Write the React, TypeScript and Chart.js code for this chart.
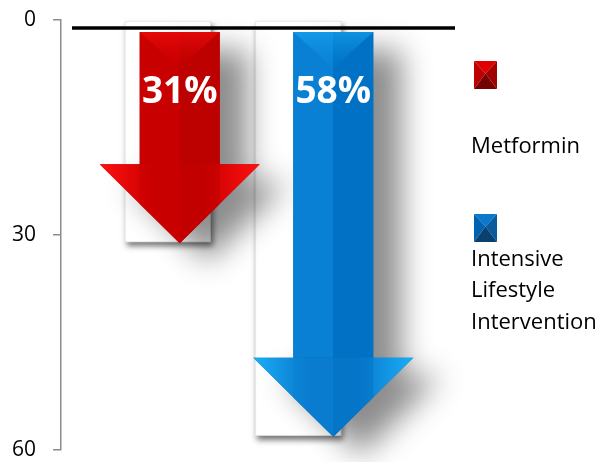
import React, { useEffect, useRef } from "react";
import { Chart, registerables } from "chart.js";

Chart.register(...registerables);

// ---- data ----
const categories = [""];
const seriesNames = ["Metformin", "Intensive Lifestyle Intervention"];
const metforminValues = [31];
const lifestyleValues = [58];
const yTickValues = [0, 30, 60];
const legendLines = [["Metformin"], ["Intensive", "Lifestyle", "Intervention"]];

// ---- style ----
const FONT = "'Open Sans', 'DejaVu Sans', sans-serif";
const ARROW_STYLE = [
  {
    offset: 12,
    shaftL: "#c80000",
    shaftR: "#bd0000",
    cap: "#d80000",
    headEdge: "#ff1010",
    headMid: "#c80000",
    sq: ["#e00000", "#bf0000", "#a00000", "#760000"],
  },
  {
    offset: 35,
    shaftL: "#0a80d4",
    shaftR: "#0071c4",
    cap: "#0c92e4",
    headEdge: "#1aaef7",
    headMid: "#0a78cc",
    sq: ["#0a78cc", "#0062b0", "#0a5a9c", "#0a406e"],
  },
];
const LEGEND_SQ = [
  { x: 474, y: 61 },
  { x: 474, y: 214 },
];
const LEGEND_TEXT_Y = [[147], [260, 291, 323]];

const arrowPlugin = {
  id: "arrowPlugin",
  beforeDatasetsDraw(chart: any) {
    const ctx = chart.ctx;
    chart.data.datasets.forEach((ds: any, i: number) => {
      const el = chart.getDatasetMeta(i).data[0];
      const { x, y, base, width } = el.getProps(["x", "y", "base", "width"], true);
      const top = Math.min(y, base);
      const h = Math.abs(base - y);
      ctx.save();
      ctx.shadowColor = "rgba(0,0,0,0.55)";
      ctx.shadowBlur = 6;
      ctx.shadowOffsetX = 2;
      ctx.shadowOffsetY = 4;
      ctx.fillStyle = "#ffffff";
      ctx.fillRect(x - width / 2, top, width, h);
      ctx.restore();
    });
  },
  afterDatasetsDraw(chart: any) {
    const ctx = chart.ctx;
    const yScale = chart.scales.y;
    const base = yScale.getPixelForValue(0);
    const area = chart.chartArea;

    // black zero line
    ctx.save();
    ctx.strokeStyle = "#000";
    ctx.lineWidth = 3.5;
    ctx.beginPath();
    ctx.moveTo(area.left + 11, base + 8);
    ctx.lineTo(area.right + 50, base + 8);
    ctx.stroke();
    ctx.restore();

    chart.data.datasets.forEach((ds: any, i: number) => {
      const el = chart.getDatasetMeta(i).data[0];
      const st = ARROW_STYLE[i];
      const cx = el.x + st.offset;
      const tip = el.y + 1;
      const top = base + 12;
      const headTop = tip - 79;
      const sw = 40;
      const hw = 80;

      const outline = () => {
        ctx.beginPath();
        ctx.moveTo(cx - sw, top);
        ctx.lineTo(cx + sw, top);
        ctx.lineTo(cx + sw, headTop);
        ctx.lineTo(cx + hw, headTop);
        ctx.lineTo(cx, tip);
        ctx.lineTo(cx - hw, headTop);
        ctx.lineTo(cx - sw, headTop);
        ctx.closePath();
      };

      // shadow
      ctx.save();
      ctx.shadowColor = "rgba(0,0,0,0.45)";
      ctx.shadowBlur = 30;
      ctx.shadowOffsetX = 28;
      ctx.shadowOffsetY = 18;
      ctx.fillStyle = st.shaftR;
      outline();
      ctx.fill();
      ctx.restore();

      // shaft halves
      ctx.save();
      ctx.fillStyle = st.shaftL;
      ctx.fillRect(cx - sw, top, sw, headTop - top);
      ctx.fillStyle = st.shaftR;
      ctx.fillRect(cx, top, sw, headTop - top);
      // top cap chevron
      const capG = ctx.createLinearGradient(0, top, 0, top + 40);
      capG.addColorStop(0, st.headEdge);
      capG.addColorStop(1, st.cap + "00");
      ctx.fillStyle = capG;
      ctx.beginPath();
      ctx.moveTo(cx - sw, top);
      ctx.lineTo(cx + sw, top);
      ctx.lineTo(cx, top + 36);
      ctx.closePath();
      ctx.globalAlpha = 0.55;
      ctx.fill();
      ctx.globalAlpha = 1;

      // head
      const hg = ctx.createLinearGradient(cx - hw, 0, cx + hw, 0);
      hg.addColorStop(0, st.headEdge);
      hg.addColorStop(0.35, st.headMid);
      hg.addColorStop(0.5, st.headMid);
      hg.addColorStop(0.65, st.headMid);
      hg.addColorStop(1, st.headEdge);
      ctx.fillStyle = hg;
      ctx.beginPath();
      ctx.moveTo(cx - hw, headTop);
      ctx.lineTo(cx + hw, headTop);
      ctx.lineTo(cx, tip);
      ctx.closePath();
      ctx.fill();
      // shaft continuation into head (darker center)
      ctx.globalAlpha = 0.5;
      ctx.fillStyle = st.shaftL;
      ctx.beginPath();
      ctx.moveTo(cx - sw, headTop);
      ctx.lineTo(cx, headTop);
      ctx.lineTo(cx, tip);
      ctx.lineTo(cx - sw, headTop + sw);
      ctx.closePath();
      ctx.fill();
      ctx.fillStyle = st.shaftR;
      ctx.beginPath();
      ctx.moveTo(cx + sw, headTop);
      ctx.lineTo(cx, headTop);
      ctx.lineTo(cx, tip);
      ctx.lineTo(cx + sw, headTop + sw);
      ctx.closePath();
      ctx.fill();
      ctx.restore();

      // percent label
      ctx.save();
      ctx.fillStyle = "#ffffff";
      ctx.font = `bold 37px ${FONT}`;
      ctx.textAlign = "center";
      ctx.textBaseline = "middle";
      ctx.fillText(`${ds.data[0]}%`, cx, base + 72);
      ctx.restore();
    });
  },
  afterDraw(chart: any) {
    const ctx = chart.ctx;
    chart.data.datasets.forEach((ds: any, i: number) => {
      const sq = LEGEND_SQ[i];
      const c = ARROW_STYLE[i].sq;
      const w = 23;
      const h = 28;
      const mx = sq.x + w / 2;
      const my = sq.y + h * 0.45;
      const tri = (pts: number[][], col: string) => {
        ctx.fillStyle = col;
        ctx.beginPath();
        ctx.moveTo(pts[0][0], pts[0][1]);
        ctx.lineTo(pts[1][0], pts[1][1]);
        ctx.lineTo(pts[2][0], pts[2][1]);
        ctx.closePath();
        ctx.fill();
      };
      ctx.save();
      tri([[sq.x, sq.y], [sq.x + w, sq.y], [mx, my]], c[0]);
      tri([[sq.x, sq.y], [sq.x, sq.y + h], [mx, my]], c[1]);
      tri([[sq.x + w, sq.y], [sq.x + w, sq.y + h], [mx, my]], c[2]);
      tri([[sq.x, sq.y + h], [sq.x + w, sq.y + h], [mx, my]], c[3]);
      ctx.fillStyle = "#000";
      ctx.font = `22px ${FONT}`;
      ctx.textAlign = "left";
      ctx.textBaseline = "middle";
      legendLines[i].forEach((line, j) => {
        ctx.fillText(line, 471, LEGEND_TEXT_Y[i][j]);
      });
      ctx.restore();
    });
  },
};

export default function App() {
  const ref = useRef<HTMLCanvasElement | null>(null);

  useEffect(() => {
    if (!ref.current) return;
    const chart = new Chart(ref.current, {
      type: "bar",
      data: {
        labels: categories,
        datasets: [
          {
            label: seriesNames[0],
            data: metforminValues,
            backgroundColor: "#ffffff",
            borderColor: "#dedede",
            borderWidth: 1,
            borderSkipped: false,
          },
          {
            label: seriesNames[1],
            data: lifestyleValues,
            backgroundColor: "#ffffff",
            borderColor: "#dedede",
            borderWidth: 1,
            borderSkipped: false,
          },
        ],
      },
      options: {
        animation: false,
        responsive: true,
        maintainAspectRatio: false,
        datasets: {
          bar: { categoryPercentage: 0.759, barPercentage: 0.659 },
        },
        layout: { padding: { top: 20, bottom: 12, left: 0, right: 202 } },
        plugins: {
          legend: { display: false },
          tooltip: { enabled: false },
        },
        scales: {
          x: { display: false },
          y: {
            reverse: true,
            min: 0,
            max: 60,
            afterBuildTicks: (scale: any) => {
              scale.ticks = yTickValues.map((v) => ({ value: v }));
            },
            afterFit: (scale: any) => {
              scale.width = 61;
              scale.paddingTop = 0;
              scale.paddingBottom = 0;
            },
            ticks: {
              color: "#000",
              font: { size: 21, family: FONT },
              padding: 17,
            },
            grid: {
              drawOnChartArea: false,
              drawTicks: true,
              tickLength: 8,
              color: "#8c8c8c",
              lineWidth: 1.5,
            },
            border: { display: true, color: "#8c8c8c", width: 1.5 },
          },
        },
      },
      plugins: [arrowPlugin],
    });
    return () => chart.destroy();
  }, []);

  return (
    <div style={{ position: "fixed", left: 0, top: 0, width: 607, height: 462, background: "#fff" }}>
      <canvas ref={ref} />
    </div>
  );
}
